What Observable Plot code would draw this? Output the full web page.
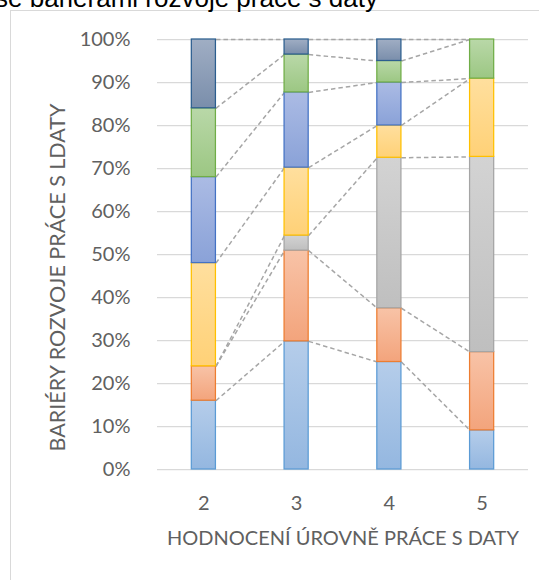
<!DOCTYPE html>
<html>
<head>
<meta charset="utf-8">
<script src="https://cdn.jsdelivr.net/npm/d3@7"></script>
<script src="https://cdn.jsdelivr.net/npm/@observablehq/plot@0.6"></script>
<style>
  html, body { margin: 0; padding: 0; background: #fff; overflow: hidden; }
  #wrap { position: relative; width: 539px; height: 580px; overflow: hidden; }
  #frame { position: absolute; left: 10px; top: 10px; width: 600px; height: 700px;
           border-left: 1px solid #d9d9d9; border-top: 1px solid #d9d9d9; box-sizing: border-box; }
  #title { position: absolute; right: 161px; top: -15px; white-space: nowrap;
           font-family: "Liberation Sans", Arial, sans-serif; font-size: 26px; line-height: 26px; color: #000; }
  #chart { position: absolute; left: 0; top: 0; }
</style>
</head>
<body>
<div id="wrap">
  <div id="frame"></div>
  <div id="title">se bariérami rozvoje práce s daty</div>
  <div id="chart"></div>
</div>
<script>
// ---- data (percent of respondents per rating level) ----
const categories = [2, 3, 4, 5];
const seriesNames = ["Bariéra 1", "Bariéra 2", "Bariéra 3", "Bariéra 4", "Bariéra 5", "Bariéra 6", "Bariéra 7"];
const s1 = [16, 29.8, 25, 9.1];
const s2 = [8, 21.1, 12.5, 18.2];
const s3 = [0, 3.5, 35, 45.4];
const s4 = [24, 15.8, 7.5, 18.2];
const s5 = [20, 17.5, 10, 0];
const s6 = [16, 8.8, 5, 9.1];
const s7 = [16, 3.5, 5, 0];
const yTicks = [0, 10, 20, 30, 40, 50, 60, 70, 80, 90, 100];
const xTitle = "HODNOCENÍ ÚROVNĚ PRÁCE S DATY";
const yTitle = "BARIÉRY ROZVOJE PRÁCE S LDATY";

// ---- styles ----
const strokeColors = ["#5B9BD5", "#ED7D31", "#A5A5A5", "#FFC000", "#4472C4", "#70AD47", "#2C5E8F"];
const gradTop =      ["#b5cdea", "#f8c3a7", "#d3d3d3", "#ffdf9e", "#abbbe4", "#b9d8a8", "#a0aec4"];
const gradBottom =   ["#94b7e0", "#f3a47c", "#bfbfbf", "#ffd177", "#8aa2d8", "#9cc783", "#7a8eab"];
const barHalf = 0.13;

const series = [s1, s2, s3, s4, s5, s6, s7];

// build stacked table
const rects = [];
const cum = categories.map(() => []);
categories.forEach((c, i) => {
  let acc = 0;
  series.forEach((s, si) => {
    const v = s[i];
    if (v > 0) rects.push({cat: c, series: seriesNames[si], si, y1: acc, y2: acc + v});
    acc += v;
    cum[i][si] = acc;
  });
});
const links = [];
series.forEach((s, si) => {
  for (let i = 0; i < categories.length - 1; i++) {
    links.push({si, x1: categories[i] + barHalf, x2: categories[i + 1] - barHalf, y1: cum[i][si], y2: cum[i + 1][si]});
  }
});

const textColor = "#606060";
const svg = Plot.plot({
  width: 539,
  height: 580,
  marginLeft: 157,
  marginRight: 11,
  marginTop: 39,
  marginBottom: 111,
  x: {domain: [1.5, 5.5]},
  y: {domain: [0, 100]},
  color: {type: "identity"},
  style: {fontFamily: "Lato, sans-serif", background: "transparent", overflow: "visible"},
  marks: [
    Plot.ruleY(yTicks, {stroke: "#d9d9d9", strokeWidth: 1.25}),
    Plot.link(links, {x1: "x1", x2: "x2", y1: "y1", y2: "y2", stroke: "#a6a6a6", strokeWidth: 1.5, strokeDasharray: "4.5,3"}),
    Plot.rect(rects, {
      x1: d => d.cat - barHalf, x2: d => d.cat + barHalf, y1: "y1", y2: "y2",
      fill: d => `url(#grad${d.si})`, stroke: d => strokeColors[d.si], strokeWidth: 1.25
    }),
    Plot.axisY(yTicks, {tickSize: 0, tickPadding: 27, tickFormat: d => d + "%", fontSize: 20, color: textColor, label: null}),
    Plot.axisX(categories, {tickSize: 0, tickPadding: 26, tickFormat: d => String(d), fontSize: 20, color: textColor, label: null}),
    Plot.text([xTitle], {frameAnchor: "bottom", dy: 69, fontSize: 20, fill: textColor, lineAnchor: "middle", textAnchor: "middle"}),
    Plot.text([yTitle], {frameAnchor: "left", rotate: -90, dx: -99, dy: 23, fontSize: 21.5, fill: textColor, lineAnchor: "middle", textAnchor: "middle"})
  ]
});

// gradient defs
const ns = "http://www.w3.org/2000/svg";
const defs = document.createElementNS(ns, "defs");
strokeColors.forEach((_, i) => {
  const g = document.createElementNS(ns, "linearGradient");
  g.setAttribute("id", `grad${i}`);
  g.setAttribute("x1", "0"); g.setAttribute("y1", "0");
  g.setAttribute("x2", "0"); g.setAttribute("y2", "1");
  [[0, gradTop[i]], [1, gradBottom[i]]].forEach(([o, c]) => {
    const st = document.createElementNS(ns, "stop");
    st.setAttribute("offset", o);
    st.setAttribute("stop-color", c);
    g.appendChild(st);
  });
  defs.appendChild(g);
});
svg.insertBefore(defs, svg.firstChild);
document.getElementById("chart").appendChild(svg);
</script>
</body>
</html>
